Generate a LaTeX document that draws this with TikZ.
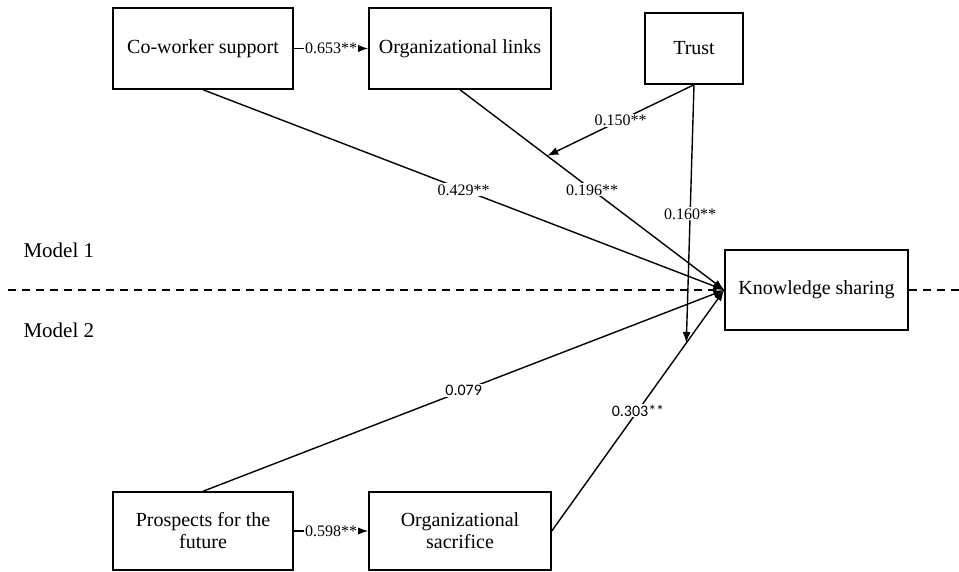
\documentclass[tikz,border=0pt]{standalone}
\usepackage{fontspec}
\setmainfont{Liberation Serif}
\newfontfamily\calibrifont{Carlito}
\usetikzlibrary{arrows.meta,positioning}

\begin{document}
\begin{tikzpicture}[x=1pt,y=-1pt,
  box/.style={draw,line width=1.5pt,minimum width=180pt,minimum height=81pt,align=center,font=\fontsize{20}{22}\selectfont},
  lab/.style={fill=white,inner sep=1pt,font=\fontsize{16}{18}\selectfont},
  arr/.style={-{Latex[length=11pt,width=8pt]},line width=1.4pt},
  divider/.style={dash pattern=on 8pt off 6pt,line width=1.4pt}]
\useasboundingbox (0,0) rectangle (959,572);

\node[box] (cowork) at (203,48.5) {Co-worker support};
\node[box,minimum width=182pt] (links) at (460,48.5) {Organizational links};
\node[box,minimum width=98pt,minimum height=71pt] (trust) at (694,48.5) {Trust};
\node[box,minimum width=183pt,minimum height=80pt] (ks) at (816.5,290) {Knowledge sharing};
\node[box,minimum height=78pt] (prospects) at (203,531) {Prospects for the\\future};
\node[box,minimum width=182pt,minimum height=78pt] (sacrifice) at (460,531) {Organizational\\sacrifice};

\node[anchor=west,font=\fontsize{21}{24}\selectfont] (model1) at (20,250) {Model 1};
\node[anchor=west,font=\fontsize{21}{24}\selectfont] (model2) at (20,330) {Model 2};

\coordinate (divl) at (8,290);
\coordinate (divr) at (959,290);
\draw[divider] (divl) -- (ks.west);
\draw[divider] (ks.east) -- (divr);

% model 1
\draw[arr] (cowork) -- node[lab]{0.653**} (links);
\draw[arr] (cowork.south) -- node[lab]{0.429**} (ks.west);
\draw[arr] (links.south) -- node[lab]{0.196**} coordinate[pos=0.33] (mod1) (ks.west);
\draw[arr] (trust.south) -- node[lab]{0.150**} (mod1);

% model 2
\draw[arr] (prospects) -- node[lab]{0.598**} (sacrifice);
\draw[arr] (prospects.north) -- node[lab,font=\calibrifont\fontsize{16}{18}\selectfont]{0.079} (ks.west);
\draw[arr] (sacrifice.east) -- node[lab,font=\calibrifont\fontsize{16}{18}\selectfont]{0.303**} coordinate[pos=0.78] (mod2) (ks.west);
\draw[arr] (trust.south) -- node[lab]{0.160**} (mod2);
\end{tikzpicture}
\end{document}
